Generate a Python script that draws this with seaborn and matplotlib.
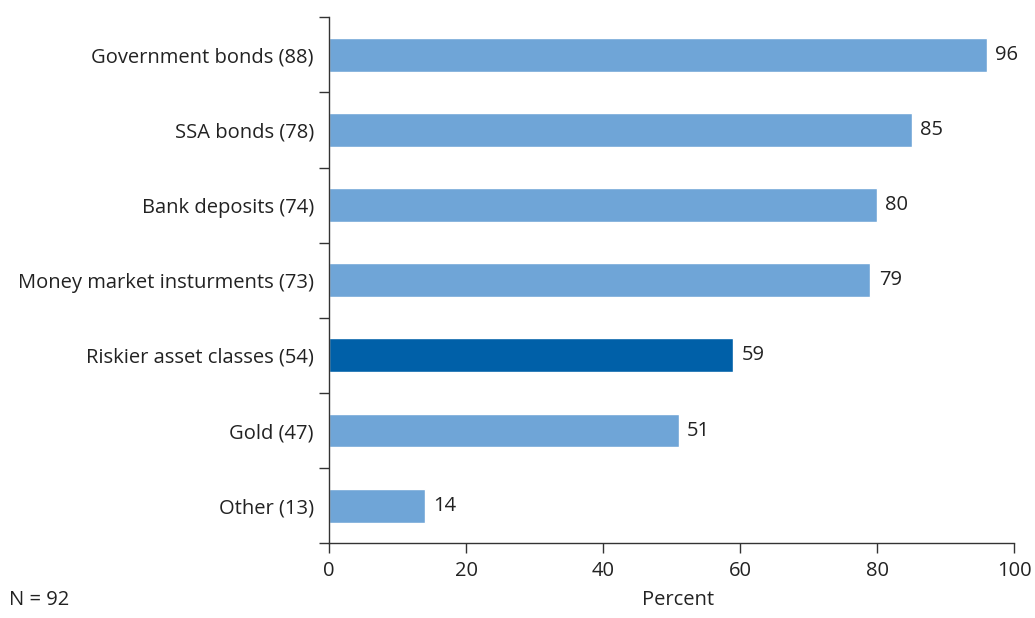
import matplotlib
matplotlib.use("Agg")
import pandas as pd
import seaborn as sns
import matplotlib.pyplot as plt

# Data
categories = ["Government bonds (88)", "SSA bonds (78)", "Bank deposits (74)",
              "Money market insturments (73)", "Riskier asset classes (54)",
              "Gold (47)", "Other (13)"]
percent = [96, 85, 80, 79, 59, 51, 14]
highlight = "Riskier asset classes (54)"

light_blue = "#6fa5d7"
dark_blue = "#0060a8"
text_col = "#222222"
fs = 14.5

df = pd.DataFrame({"category": categories, "percent": percent})
palette = {c: (dark_blue if c == highlight else light_blue) for c in categories}

sns.set_theme(style="white")
plt.rcParams["font.family"] = ["Open Sans", "DejaVu Sans"]

fig, ax = plt.subplots(figsize=(10.35, 6.18), dpi=100)
fig.subplots_adjust(left=0.318, right=0.98, top=0.972, bottom=0.121)

sns.barplot(data=df, x="percent", y="category", hue="category", palette=palette,
            order=categories, width=0.45, legend=False, ax=ax, saturation=1)

# value labels at bar ends
for i, v in enumerate(percent):
    ax.text(v + 1.2, i, str(v), va="center", ha="left", fontsize=fs, color=text_col)

ax.set_xlim(0, 100)
ax.set_ylim(len(categories) - 0.5, -0.5)
ax.set_xticks(range(0, 101, 20))
# separator ticks between categories, labels on minor ticks
ax.set_yticks([i - 0.5 for i in range(len(categories) + 1)], minor=False)
ax.set_yticklabels([])
ax.set_yticks(range(len(categories)), minor=True)
ax.set_yticklabels(categories, minor=True)
ax.tick_params(axis="y", which="major", length=7, width=1, color="#333333", direction="out", left=True)
ax.tick_params(axis="y", which="minor", length=0, pad=11, labelsize=fs, labelcolor=text_col)
ax.tick_params(axis="x", length=7, width=1, color="#333333", direction="out", bottom=True,
               labelsize=fs, labelcolor=text_col, pad=6)

for s in ["top", "right"]:
    ax.spines[s].set_visible(False)
for s in ["left", "bottom"]:
    ax.spines[s].set_color("#333333")
    ax.spines[s].set_linewidth(1)

ax.set_xlabel("")
ax.set_ylabel("")
fig.text(0.655, 0.013, "Percent", ha="center", va="bottom", fontsize=fs, color=text_col)
fig.text(0.009, 0.013, "N = 92", ha="left", va="bottom", fontsize=fs, color=text_col)

fig.savefig("out.png", dpi=100)
